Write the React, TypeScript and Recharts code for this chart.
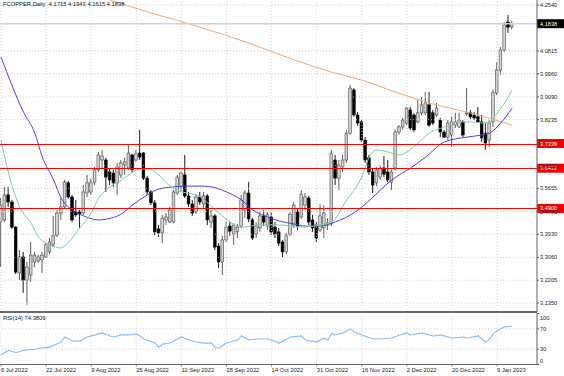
import React from "react";
import { ComposedChart, LineChart, Bar, Line, XAxis, YAxis, ReferenceLine } from "recharts";

const FONT = '"Liberation Sans", Arial, sans-serif';

// daily candles, bar index 0 = 6 Jul 2022
const OPEN = [
  3.439, 3.447, 3.541, 3.514, 3.420, 3.248, 3.308, 3.221, 3.240, 3.289,
  3.293, 3.297, 3.308, 3.327, 3.353, 3.390, 3.473, 3.496, 3.586, 3.533,
  3.477, 3.477, 3.473, 3.548, 3.552, 3.589, 3.635, 3.672, 3.672, 3.627,
  3.623, 3.586, 3.616, 3.653, 3.642, 3.691, 3.672, 3.698, 3.698, 3.604,
  3.552, 3.511, 3.413, 3.398, 3.447, 3.439, 3.439, 3.548, 3.571, 3.616,
  3.537, 3.507, 3.477, 3.533, 3.507, 3.537, 3.439, 3.462, 3.349, 3.289,
  3.372, 3.424, 3.394, 3.402, 3.424, 3.484, 3.548, 3.447, 3.394, 3.417,
  3.462, 3.424, 3.458, 3.420, 3.402, 3.364, 3.327, 3.394, 3.428, 3.477,
  3.458, 3.503, 3.529, 3.447, 3.428, 3.409, 3.417, 3.428, 3.432, 3.672,
  3.604, 3.646, 3.672, 3.773, 3.935, 3.841, 3.815, 3.747, 3.680, 3.627,
  3.586, 3.608, 3.642, 3.627, 3.589, 3.642, 3.777, 3.796, 3.811, 3.860,
  3.841, 3.815, 3.849, 3.849, 3.879, 3.849, 3.841, 3.822, 3.777, 3.758,
  3.766, 3.803, 3.796, 3.815, 3.845, 3.849, 3.841, 3.834, 3.815, 3.773,
  3.747, 3.815, 3.924, 4.010, 4.085, 4.190, 4.1715,
];
const HIGH = [
  3.529, 3.571, 3.571, 3.522, 3.424, 3.334, 3.327, 3.289, 3.364, 3.327,
  3.315, 3.327, 3.360, 3.379, 3.462, 3.484, 3.529, 3.597, 3.593, 3.541,
  3.522, 3.484, 3.578, 3.616, 3.604, 3.646, 3.702, 3.710, 3.680, 3.642,
  3.635, 3.661, 3.672, 3.680, 3.728, 3.695, 3.710, 3.785, 3.702, 3.612,
  3.559, 3.522, 3.428, 3.466, 3.473, 3.496, 3.559, 3.616, 3.627, 3.691,
  3.552, 3.522, 3.544, 3.552, 3.552, 3.544, 3.484, 3.469, 3.360, 3.387,
  3.439, 3.439, 3.435, 3.432, 3.541, 3.559, 3.589, 3.454, 3.439, 3.477,
  3.484, 3.477, 3.477, 3.439, 3.417, 3.372, 3.398, 3.477, 3.514, 3.492,
  3.559, 3.548, 3.537, 3.466, 3.439, 3.507, 3.503, 3.454, 3.710, 3.691,
  3.672, 3.691, 3.785, 3.954, 3.942, 3.852, 3.822, 3.758, 3.691, 3.642,
  3.646, 3.653, 3.687, 3.672, 3.635, 3.785, 3.803, 3.830, 3.871, 3.871,
  3.849, 3.897, 3.909, 3.927, 3.927, 3.860, 3.886, 3.830, 3.785, 3.822,
  3.834, 3.849, 3.849, 3.822, 3.942, 3.860, 3.852, 3.871, 3.841, 3.811,
  3.822, 3.935, 4.040, 4.096, 4.190, 4.217, 4.1943,
];
const LOW = [
  3.270, 3.439, 3.496, 3.413, 3.244, 3.221, 3.173, 3.128, 3.214, 3.270,
  3.285, 3.248, 3.304, 3.319, 3.345, 3.383, 3.447, 3.488, 3.526, 3.439,
  3.458, 3.417, 3.466, 3.533, 3.541, 3.578, 3.627, 3.642, 3.552, 3.578,
  3.571, 3.541, 3.604, 3.616, 3.635, 3.627, 3.665, 3.672, 3.597, 3.541,
  3.503, 3.390, 3.383, 3.360, 3.428, 3.435, 3.435, 3.541, 3.552, 3.529,
  3.496, 3.462, 3.469, 3.503, 3.492, 3.428, 3.417, 3.334, 3.267, 3.240,
  3.364, 3.387, 3.353, 3.379, 3.417, 3.454, 3.439, 3.372, 3.379, 3.402,
  3.424, 3.409, 3.390, 3.379, 3.349, 3.308, 3.319, 3.387, 3.417, 3.409,
  3.451, 3.484, 3.428, 3.402, 3.364, 3.402, 3.379, 3.409, 3.424, 3.578,
  3.559, 3.627, 3.661, 3.766, 3.834, 3.800, 3.740, 3.661, 3.616, 3.548,
  3.574, 3.597, 3.608, 3.589, 3.559, 3.635, 3.766, 3.785, 3.803, 3.785,
  3.777, 3.811, 3.841, 3.841, 3.796, 3.803, 3.834, 3.758, 3.755, 3.747,
  3.721, 3.792, 3.792, 3.758, 3.837, 3.826, 3.822, 3.811, 3.740, 3.710,
  3.721, 3.796, 3.916, 3.991, 4.078, 4.149, 4.1615,
];
const CLOSE = [
  3.503, 3.541, 3.514, 3.420, 3.251, 3.308, 3.221, 3.270, 3.315, 3.315,
  3.308, 3.315, 3.353, 3.364, 3.390, 3.473, 3.496, 3.589, 3.533, 3.447,
  3.466, 3.469, 3.552, 3.586, 3.589, 3.635, 3.691, 3.687, 3.608, 3.597,
  3.586, 3.646, 3.661, 3.665, 3.698, 3.635, 3.695, 3.683, 3.604, 3.552,
  3.511, 3.402, 3.398, 3.454, 3.458, 3.484, 3.552, 3.608, 3.623, 3.537,
  3.507, 3.473, 3.533, 3.514, 3.537, 3.447, 3.462, 3.345, 3.289, 3.372,
  3.420, 3.405, 3.428, 3.420, 3.522, 3.548, 3.451, 3.379, 3.424, 3.462,
  3.439, 3.466, 3.402, 3.394, 3.360, 3.327, 3.387, 3.469, 3.503, 3.424,
  3.544, 3.533, 3.439, 3.417, 3.379, 3.462, 3.473, 3.435, 3.698, 3.604,
  3.653, 3.672, 3.773, 3.942, 3.841, 3.811, 3.747, 3.672, 3.627, 3.578,
  3.635, 3.642, 3.619, 3.597, 3.627, 3.777, 3.796, 3.822, 3.867, 3.792,
  3.785, 3.849, 3.879, 3.886, 3.803, 3.811, 3.867, 3.777, 3.758, 3.811,
  3.815, 3.815, 3.822, 3.766, 3.849, 3.834, 3.830, 3.815, 3.755, 3.736,
  3.811, 3.924, 4.010, 4.085, 4.179, 4.171, 4.1838,
];

// moving averages read at [bar, price]
const MA_FAST: [number, number][] = [
  [0, 3.747], [2, 3.623], [5, 3.495], [8, 3.435], [10, 3.383], [13, 3.353], [16, 3.342],
  [18, 3.364], [21, 3.417], [24, 3.473], [26, 3.529], [29, 3.571], [32, 3.597], [34, 3.616],
  [37, 3.638], [39, 3.638], [42, 3.616], [44, 3.586], [47, 3.559], [53, 3.533], [58, 3.473],
  [64, 3.420], [69, 3.428], [74, 3.428], [80, 3.420], [85, 3.428], [88, 3.439], [92, 3.522],
  [96, 3.608], [98, 3.683], [100, 3.710], [103, 3.702], [106, 3.691], [108, 3.702],
  [111, 3.736], [114, 3.773], [118, 3.796], [121, 3.815], [125, 3.815], [128, 3.811],
  [130, 3.815], [132, 3.848], [134, 3.886], [136, 3.935],
];
const MA_MID: [number, number][] = [
  [0, 4.059], [6, 3.852], [9, 3.773], [11, 3.683], [14, 3.597], [16, 3.529], [19, 3.484],
  [22, 3.462], [26, 3.447], [28, 3.450], [32, 3.469], [35, 3.503], [39, 3.541], [42, 3.563],
  [46, 3.571], [49, 3.574], [53, 3.574], [56, 3.571], [60, 3.552], [64, 3.522], [67, 3.484],
  [71, 3.458], [74, 3.443], [78, 3.432], [81, 3.424], [85, 3.424], [88, 3.435], [92, 3.458],
  [96, 3.495], [99, 3.533], [104, 3.597], [109, 3.642], [113, 3.683], [118, 3.740],
  [124, 3.758], [128, 3.766], [130, 3.773], [133, 3.811], [136, 3.867],
];
const MA_SLOW: [number, number][] = [
  [29, 4.273], [40, 4.224], [53, 4.171], [66, 4.111], [78, 4.048], [88, 4.002],
  [96, 3.972], [105, 3.927], [114, 3.886], [125, 3.848], [136, 3.803],
];
const RSI_PTS: [number, number][] = [
  [0, 19], [2, 28], [4, 23], [6, 28], [9, 30], [10, 32], [13, 34], [16, 44], [17, 54], [19, 46],
  [21, 46], [23, 54], [26, 60], [27, 62], [29, 56], [30, 54], [32, 58], [34, 58], [36, 60],
  [37, 56], [38, 50], [41, 42], [42, 34], [43, 40], [45, 42], [47, 50], [48, 54], [50, 48],
  [52, 44], [54, 42], [56, 42], [57, 34], [58, 32], [60, 42], [61, 44], [63, 48], [64, 56],
  [66, 48], [68, 50], [71, 50], [72, 48], [74, 42], [77, 54], [80, 56], [81, 48], [84, 44],
  [86, 52], [87, 48], [88, 62], [89, 58], [91, 62], [93, 70], [94, 64], [96, 58], [99, 50],
  [101, 50], [104, 52], [106, 58], [108, 62], [109, 58], [112, 62], [115, 56], [117, 58],
  [119, 54], [120, 52], [123, 54], [124, 52], [127, 56], [128, 50], [129, 44], [130, 50],
  [131, 60], [132, 66], [133, 70], [134, 74], [135, 74], [136, 74.38],
];

const DATE_IDX = [0, 12, 24, 36, 48, 60, 72, 84, 96, 108, 120, 132];
const DATE_LABELS = [
  "6 Jul 2022", "22 Jul 2022", "9 Aug 2022", "25 Aug 2022", "12 Sep 2022", "28 Sep 2022",
  "14 Oct 2022", "31 Oct 2022", "16 Nov 2022", "2 Dec 2022", "20 Dec 2022", "9 Jan 2023",
];
const PRICE_TICKS = [
  3.135, 3.2205, 3.306, 3.393, 3.4785, 3.5655, 3.651, 3.738, 3.8235, 3.909, 3.996, 4.0815,
  4.1685, 4.254,
];
// tick labels that sit fully under a price tag
const HIDDEN_TICKS = [4.1685, 3.738];
const LEVELS = [3.7339, 3.6412, 3.49];
const LAST_PRICE = 4.1838;
const RSI_TICKS = [0, 30, 70, 100];

const X_DOMAIN = [-0.266, 142.63];
const PRICE_DOMAIN = [3.1012, 4.2728];

const fastMap = new Map(MA_FAST);
const midMap = new Map(MA_MID);
const slowMap = new Map(MA_SLOW);
const rsiMap = new Map(RSI_PTS);

const rows = OPEN.map((o, i) => ({
  i,
  o,
  h: HIGH[i],
  l: LOW[i],
  c: CLOSE[i],
  fast: fastMap.get(i) ?? null,
  mid: midMap.get(i) ?? null,
  slow: slowMap.get(i) ?? null,
  rsi: rsiMap.get(i) ?? null,
}));

function Candle(props: any) {
  const { x, y, width, height } = props;
  const d = props.payload ?? props;
  if (x == null || d == null) return null;
  const { o, h, l, c } = d;
  const top = Math.min(y, y + height);
  const bot = Math.max(y, y + height);
  const k = h > l ? (bot - top) / (h - l) : 0;
  const py = (p: number) => top + (h - p) * k;
  const cx = x + width / 2;
  const up = c >= o;
  const bTop = py(Math.max(o, c));
  const bh = Math.max(py(Math.min(o, c)) - bTop, 0.8);
  const edge = up ? "#4a4a4a" : "#000";
  return (
    <g>
      <line x1={cx} x2={cx} y1={top} y2={bot} stroke={edge} strokeWidth={0.9} />
      <rect x={cx - 1.35} y={bTop} width={2.7} height={bh} fill={up ? "#d2d2d2" : "#000"} stroke={edge} strokeWidth={0.6} />
    </g>
  );
}

function PriceTick(props: any) {
  const { x, y, payload } = props;
  if (HIDDEN_TICKS.includes(payload.value)) return null;
  return (
    <text x={x} y={y} dominantBaseline="central" fontSize={5.6} fontFamily={FONT} fill="#222">
      {payload.value.toFixed(4)}
    </text>
  );
}

// level line plus its price tag on the axis
function Level(props: any) {
  const { viewBox, text, bg, line } = props;
  if (!viewBox) return null;
  const left = viewBox.x + viewBox.width;
  return (
    <g>
      {line && <rect x={viewBox.x} y={Math.round(viewBox.y) - 0.5} width={viewBox.width} height={1} fill={line} shapeRendering="crispEdges" />}
      <rect x={left} y={viewBox.y - 4.5} width={27} height={9} fill={bg} />
      <text x={left + 3} y={viewBox.y} dominantBaseline="central" fontSize={5.6} fontFamily={FONT} fill="#fff">
        {text}
      </text>
    </g>
  );
}

function DateTick(props: any) {
  const { x, y, payload } = props;
  const k = DATE_IDX.indexOf(payload.value);
  return (
    <g>
      <line x1={x} x2={x} y1={y - 2} y2={y} stroke="#606060" strokeWidth={0.8} />
      <text x={x} y={y + 3} dominantBaseline="central" fontSize={5.8} fontFamily={FONT} fill="#222">
        {DATE_LABELS[k]}
      </text>
    </g>
  );
}

function RsiTick(props: any) {
  const { x, y, payload } = props;
  const v = payload.value;
  const dy = v === 100 ? 4.5 : v === 0 ? -3.5 : 0;
  return (
    <text x={x} y={y + dy} dominantBaseline="central" fontSize={5.6} fontFamily={FONT} fill="#222">
      {v}
    </text>
  );
}

const gridProps = { stroke: "#c6c6c6", strokeDasharray: "1 2", strokeWidth: 0.8 };

export default function App() {
  return (
    <div style={{ position: "absolute", left: 0, top: 0, width: 564, height: 376, background: "#fff", overflow: "hidden", fontFamily: FONT }}>
      <ComposedChart width={564} height={312} data={rows} margin={{ top: 0, right: 0, bottom: 0, left: 0 }}>
        <XAxis dataKey="i" type="number" domain={X_DOMAIN} hide allowDataOverflow />
        <YAxis
          orientation="right"
          width={27}
          domain={PRICE_DOMAIN}
          ticks={PRICE_TICKS}
          interval={0}
          allowDataOverflow
          tick={<PriceTick />}
          tickSize={2}
          tickMargin={1}
          axisLine={{ stroke: "#606060" }}
          tickLine={{ stroke: "#606060" }}
        />
        {PRICE_TICKS.filter((v) => !HIDDEN_TICKS.includes(v)).map((v) => (
          <ReferenceLine key={"h" + v} y={v} {...gridProps} />
        ))}
        {DATE_IDX.map((v) => (
          <ReferenceLine key={"v" + v} x={v} {...gridProps} />
        ))}
        <Bar dataKey={(d: any) => [d.l, d.h]} shape={<Candle />} barSize={3} isAnimationActive={false} />
        <Line dataKey="slow" type="monotone" stroke="#eeaa78" strokeWidth={1} dot={false} activeDot={false} connectNulls isAnimationActive={false} />
        <Line dataKey="mid" type="monotone" stroke="#4646d2" strokeWidth={1} dot={false} activeDot={false} connectNulls isAnimationActive={false} />
        <Line dataKey="fast" type="monotone" stroke="#84c8a8" strokeWidth={1} dot={false} activeDot={false} connectNulls isAnimationActive={false} />
        <ReferenceLine y={LAST_PRICE} stroke="#d0d0d0" strokeWidth={1.6} label={<Level text={LAST_PRICE.toFixed(4)} bg="#000" />} />
        {LEVELS.map((v) => (
          <ReferenceLine key={"r" + v} y={v} stroke="none" strokeWidth={0} label={<Level text={v.toFixed(4)} bg="#f00000" line="#ff0000" />} />
        ))}
      </ComposedChart>

      <div style={{ position: "absolute", left: 3, top: 1, fontSize: 5.8, color: "#111", whiteSpace: "pre" }}>
        {"FCOPPER,Daily  4.1715 4.1943 4.1615 4.1838"}
      </div>

      <div style={{ position: "absolute", left: 0, top: 311, width: 537, height: 2, background: "#6a6a6a" }} />

      <div style={{ position: "absolute", left: 0, top: 312 }}>
        <LineChart width={564} height={64} data={rows} margin={{ top: 1.5, right: 0, bottom: 0, left: 0 }}>
          <XAxis
            dataKey="i"
            type="number"
            domain={X_DOMAIN}
            allowDataOverflow
            ticks={DATE_IDX}
            interval={0}
            height={11.5}
            tick={<DateTick />}
            tickLine={false}
            tickSize={0}
            tickMargin={2}
            axisLine={{ stroke: "#6a6a6a" }}
          />
          <YAxis
            orientation="right"
            width={27}
            domain={[0, 100]}
            ticks={RSI_TICKS}
            interval={0}
            tick={<RsiTick />}
            tickSize={2}
            tickMargin={1}
            axisLine={{ stroke: "#606060" }}
            tickLine={{ stroke: "#606060" }}
          />
          <ReferenceLine y={70} {...gridProps} />
          <ReferenceLine y={30} {...gridProps} />
          {DATE_IDX.map((v) => (
            <ReferenceLine key={"rv" + v} x={v} {...gridProps} />
          ))}
          <Line dataKey="rsi" type="linear" stroke="#86bcee" strokeWidth={1.1} dot={false} activeDot={false} connectNulls isAnimationActive={false} />
        </LineChart>
      </div>

      <div style={{ position: "absolute", left: 3, top: 315, fontSize: 5.8, color: "#111" }}>RSI(14) 74.3809</div>
    </div>
  );
}
